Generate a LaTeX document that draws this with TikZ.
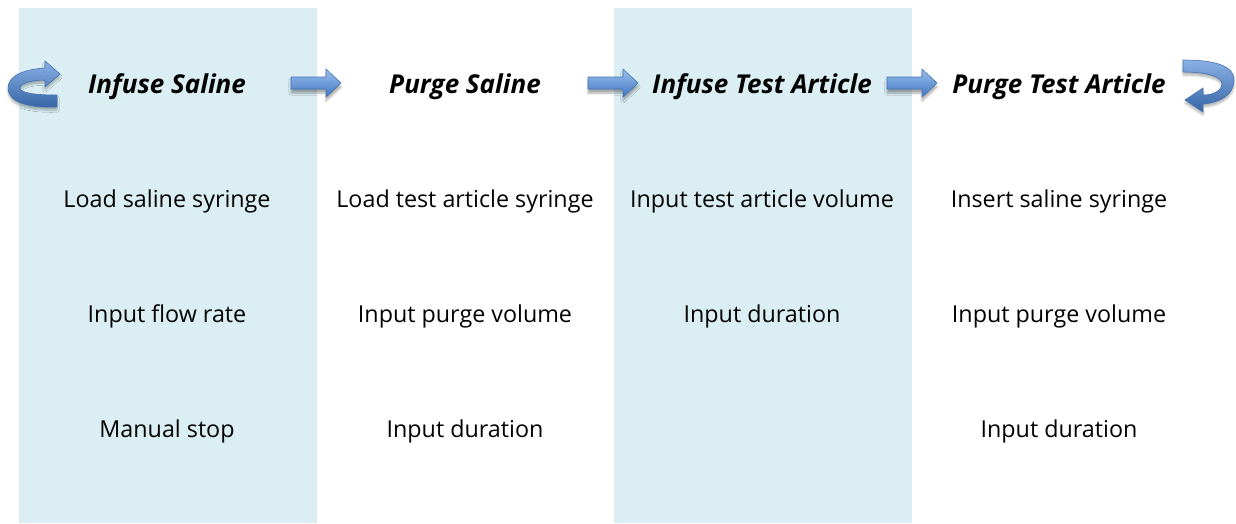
\documentclass[tikz,border=0pt]{standalone}
\usepackage{fontspec}
\setmainfont{Open Sans}
\usetikzlibrary{shadows.blur}
\definecolor{panel}{HTML}{DAEEF3}
\definecolor{arrowtop}{HTML}{9CC0EE}
\definecolor{arrowbot}{HTML}{3F76C2}
\definecolor{arrowline}{HTML}{4673B3}
\tikzset{
  panelbox/.style={fill=panel, draw=none},
  title/.style={font=\fontsize{26}{31}\selectfont\bfseries\itshape, anchor=center},
  item/.style={font=\fontsize{23.3}{28}\selectfont, anchor=center},
  flowarrow/.style={top color=arrowtop, bottom color=arrowbot, draw=arrowline, line width=0.6pt,
    blur shadow={shadow xshift=0pt, shadow yshift=-4pt, shadow blur steps=6, shadow opacity=35}},
  turnarrow/.style={top color=arrowtop!80!arrowbot, bottom color=arrowbot!85!black, draw=arrowline, line width=0.6pt,
    blur shadow={shadow xshift=0pt, shadow yshift=-3pt, shadow blur steps=6, shadow opacity=30}}
}
\begin{document}
\begin{tikzpicture}[x=1pt,y=-1pt]
\useasboundingbox (0,0) rectangle (1236,523);

% shaded columns
\fill[panelbox] (19,8) rectangle (317,523);
\fill[panelbox] (614,8) rectangle (912,523);

% column titles
\node[title] (t1) at (167,87) {Infuse Saline};
\node[title] (t2) at (465,87) {Purge Saline};
\node[title] (t3) at (762,87) {Infuse Test Article};
\node[title] (t4) at (1059,87) {Purge Test Article};

% column entries
\node[item] (a1) at (167,201) {Load saline syringe};
\node[item] (a2) at (167,316) {Input flow rate};
\node[item] (a3) at (167,431) {Manual stop};

\node[item] (b1) at (465,201) {Load test article syringe};
\node[item] (b2) at (465,316) {Input purge volume};
\node[item] (b3) at (465,431) {Input duration};

\node[item] (c1) at (762,201) {Input test article volume};
\node[item] (c2) at (762,316) {Input duration};

\node[item] (d1) at (1059,201) {Insert saline syringe};
\node[item] (d2) at (1059,316) {Input purge volume};
\node[item] (d3) at (1059,431) {Input duration};

% block arrows between the stages
\foreach \x in {291,588,887}{
  \path[flowarrow] (\x,77) -- (\x+35,77) -- (\x+35,69) -- (\x+50,83)
    -- (\x+35,97) -- (\x+35,89) -- (\x,89) -- cycle;
}

% u-turn arrow entering the first stage
\path[turnarrow] (57,107) .. controls (30,108) and (8,103) .. (8,88)
  .. controls (8,74) and (28,69) .. (45,68) -- (45,61) -- (60,74) -- (45,87) -- (45,80)
  .. controls (33,80) and (20,83) .. (20,88)
  .. controls (20,93) and (35,95) .. (57,95) -- cycle;

% u-turn arrow leaving the last stage
\path[turnarrow] (1183,60) .. controls (1210,60) and (1234,64) .. (1234,80)
  .. controls (1234,96) and (1218,103) .. (1203,104) -- (1203,112) -- (1185,100) -- (1203,88) -- (1203,95)
  .. controls (1214,95) and (1222,90) .. (1222,84)
  .. controls (1222,76) and (1205,72) .. (1183,72) -- cycle;
\end{tikzpicture}
\end{document}
